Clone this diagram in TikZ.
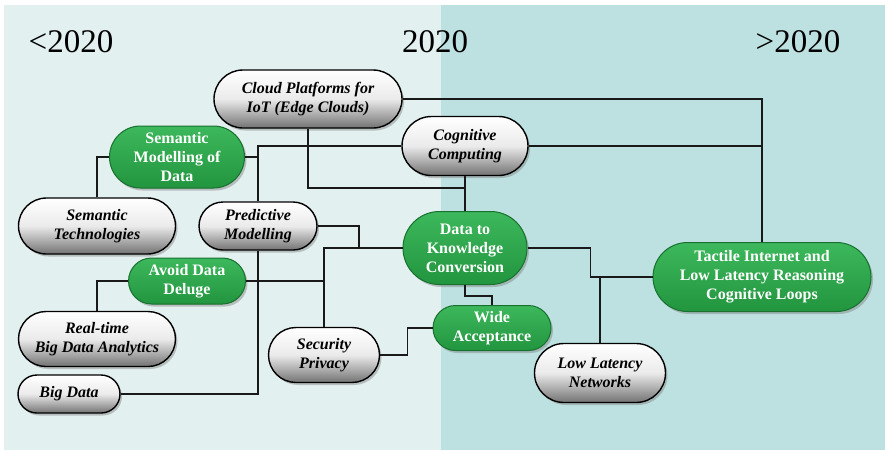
\documentclass[tikz,border=0pt]{standalone}
\usepackage{fontspec}
\setmainfont{Liberation Serif}
\usetikzlibrary{shapes.misc,shadows,calc}
\definecolor{panelL}{HTML}{E3F0F0}
\definecolor{panelR}{HTML}{BDE1E1}
\definecolor{gtop}{HTML}{3DB85C}
\definecolor{gbot}{HTML}{22953F}
\definecolor{gborder}{HTML}{17702E}
\tikzset{
  pill/.style={rounded rectangle, inner sep=0pt, align=center,
    font=\fontsize{16}{19}\selectfont\bfseries,
    drop shadow={shadow xshift=2pt, shadow yshift=-2.5pt, opacity=0.45}},
  graypill/.style={pill, draw=black, line width=1.4pt, top color=white, bottom color=black!55,
    middle color=white!92!black, font=\fontsize{16}{19}\selectfont\bfseries\itshape, text=black},
  greenpill/.style={pill, draw=gborder, line width=1pt, top color=gtop, bottom color=gbot, text=white},
  conn/.style={draw=black!90, line width=1.3pt},
  year/.style={font=\fontsize{33}{33}\selectfont, anchor=base}
}
\begin{document}
\begin{tikzpicture}[x=1pt,y=-1pt]
\useasboundingbox (0,0) rectangle (885,450);
\fill[white] (0,0) rectangle (885,450);
\fill[panelL] (4,5) rectangle (441,450);
\fill[panelR] (441,5) rectangle (885,450);
\node[year] (y1) at (71,52) {<2020};
\node[year] (y2) at (435,52) {2020};
\node[year] (y3) at (798,52) {>2020};

\node[graypill, minimum width=188pt, minimum height=58pt] (cloud) at (308,99) {Cloud Platforms for\\IoT (Edge Clouds)};
\node[greenpill, minimum width=135pt, minimum height=62pt] (smd) at (177,157) {Semantic\\Modelling of\\Data};
\node[graypill, minimum width=126pt, minimum height=59pt] (cog) at (465,146) {Cognitive\\Computing};
\node[graypill, minimum width=157pt, minimum height=56pt] (stech) at (97,226) {Semantic\\Technologies};
\node[graypill, minimum width=118pt, minimum height=48pt] (pred) at (258,226) {Predictive\\Modelling};
\node[greenpill, minimum width=124pt, minimum height=73pt] (dkc) at (465,248) {Data to\\Knowledge\\Conversion};
\node[greenpill, minimum width=117pt, minimum height=46pt] (add) at (187,281) {Avoid Data\\Deluge};
\node[graypill, minimum width=157pt, minimum height=55pt] (rt) at (97,339) {Real-time\\Big Data Analytics};
\node[graypill, minimum width=102pt, minimum height=38pt] (bd) at (69,394) {Big Data};
\node[graypill, minimum width=111pt, minimum height=55pt] (sec) at (324,355) {Security\\Privacy};
\node[greenpill, minimum width=118pt, minimum height=45pt] (wide) at (492,328) {Wide\\Acceptance};
\node[graypill, minimum width=131pt, minimum height=59pt] (lln) at (600,373) {Low Latency\\Networks};
\node[greenpill, minimum width=218pt, minimum height=69pt] (tact) at (762,277) {Tactile Internet and\\Low Latency Reasoning\\Cognitive Loops};

\coordinate (j1) at (465,188);
\coordinate (j2) at (359,248);

\draw[conn] (cloud.east) -| (tact.north);
\draw[conn] (cog.east) -- (cog.east -| tact.north);
\draw[conn] (cloud.south) |- (j1);
\draw[conn] (cog.south) -- (dkc.north);
\draw[conn] (cog.west) -| (pred.north);
\draw[conn] (smd.east) -- (smd.east -| pred.north);
\draw[conn] (smd.west) -| (stech.north);
\draw[conn] (dkc.west) -| (sec.north);
\draw[conn] (pred.east) -| (j2);
\draw[conn] (add.east) -- (add.east -| sec.north);
\draw[conn] (pred.south) |- (bd.east);
\draw[conn] (add.west) -| (rt.north);
\draw[conn] (sec.east) -- ++(27,0) |- (wide.west);
\draw[conn] (dkc.south) -- ++(0,11) -| (wide.north);
\draw[conn] (dkc.east) -- ++(63,0) |- (tact.west);
\draw[conn] (lln.north) -- (lln.north |- tact.west);
\end{tikzpicture}
\end{document}
